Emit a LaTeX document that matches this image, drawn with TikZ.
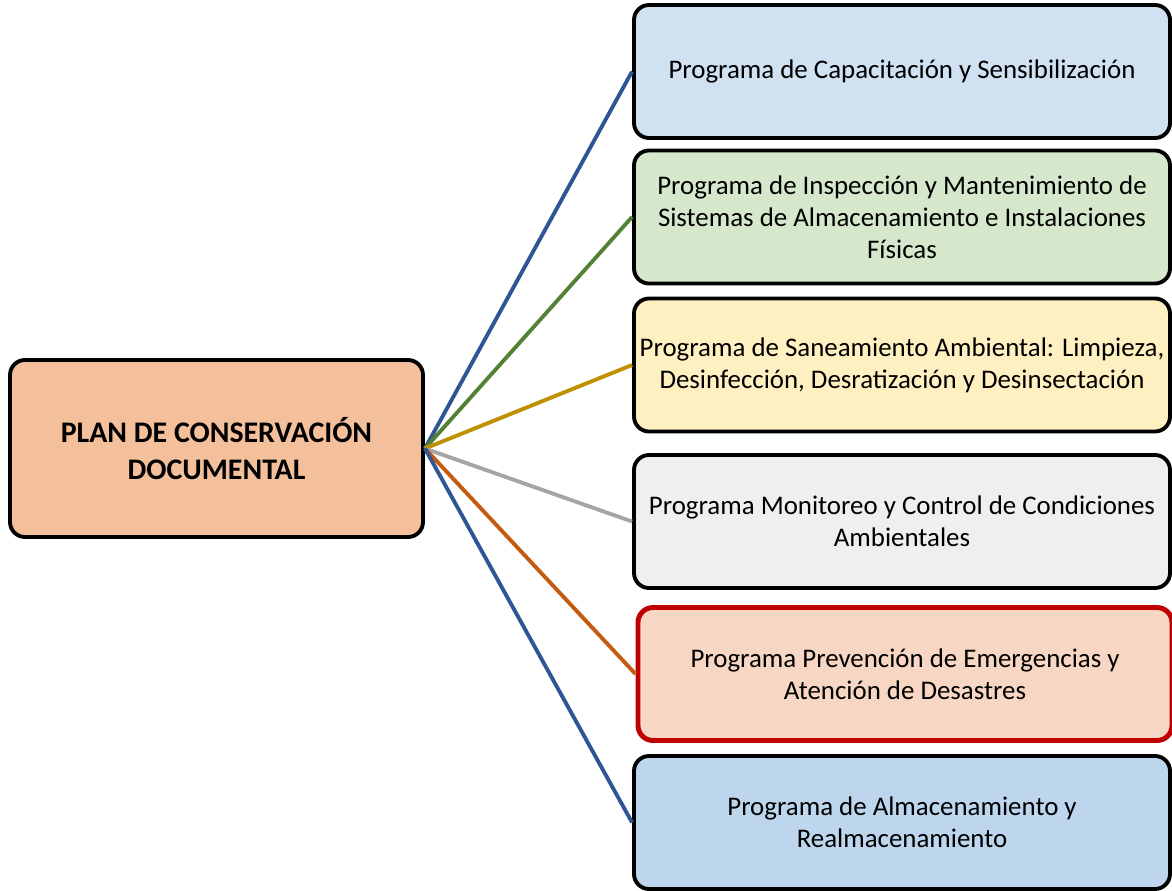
\documentclass[tikz,border=0pt]{standalone}
\usepackage{fontspec}
\setmainfont{Carlito}
\definecolor{planfill}{HTML}{F4C09C}
\definecolor{capfill}{HTML}{D0E1F2}
\definecolor{insfill}{HTML}{D6E8CB}
\definecolor{sanfill}{HTML}{FFF0C1}
\definecolor{monfill}{HTML}{EFEFEF}
\definecolor{prefill}{HTML}{F7D7C3}
\definecolor{alnfill}{HTML}{BDD6EE}
\definecolor{prered}{HTML}{C00000}
\definecolor{lblue}{HTML}{2F5597}
\definecolor{lgreen}{HTML}{548235}
\definecolor{lgold}{HTML}{BF9000}
\definecolor{lgrey}{HTML}{A5A5A5}
\definecolor{lorange}{HTML}{C55A11}
\begin{document}
\begin{tikzpicture}[
    prog/.style={draw=black, line width=2.2pt, rounded corners=0.3cm,
      minimum width=10.72cm, minimum height=2.66cm, inner sep=0pt,
      align=center, font=\fontsize{15.3}{18.3}\selectfont},
    link/.style={line width=2.2pt}]
  \useasboundingbox (0,0) rectangle (23.44,17.8);

  \node[prog, fill=planfill, minimum width=8.26cm, minimum height=3.54cm,
    font=\bfseries\fontsize{17}{20.6}\selectfont] (plan) at (4.33,8.83)
    {PLAN DE CONSERVACIÓN\\DOCUMENTAL};

  \node[prog, fill=capfill] (capac) at (18.04,16.37)
    {Programa de Capacitación y Sensibilización};
  \node[prog, fill=insfill] (inspec) at (18.04,13.46)
    {Programa de Inspección y Mantenimiento de\\Sistemas de Almacenamiento e Instalaciones\\Físicas};
  \node[prog, fill=sanfill] (saneam) at (18.04,10.5)
    {Programa de Saneamiento Ambiental: Limpieza,\\Desinfección, Desratización y Desinsectación};
  \node[prog, fill=monfill] (monit) at (18.04,7.37)
    {Programa Monitoreo y Control de Condiciones\\Ambientales};
  \node[prog, fill=prefill, draw=prered, line width=2.8pt, minimum width=10.68cm] (preven) at (18.1,4.32)
    {Programa Prevención de Emergencias y\\Atención de Desastres};
  \node[prog, fill=alnfill] (almac) at (18.04,1.35)
    {Programa de Almacenamiento y\\Realmacenamiento};

  \foreach \n/\c in {capac/lblue, inspec/lgreen, saneam/lgold,
                     monit/lgrey, preven/lorange, almac/lblue}
    \draw[link, \c] (plan.east) -- (\n.west);
\end{tikzpicture}
\end{document}
